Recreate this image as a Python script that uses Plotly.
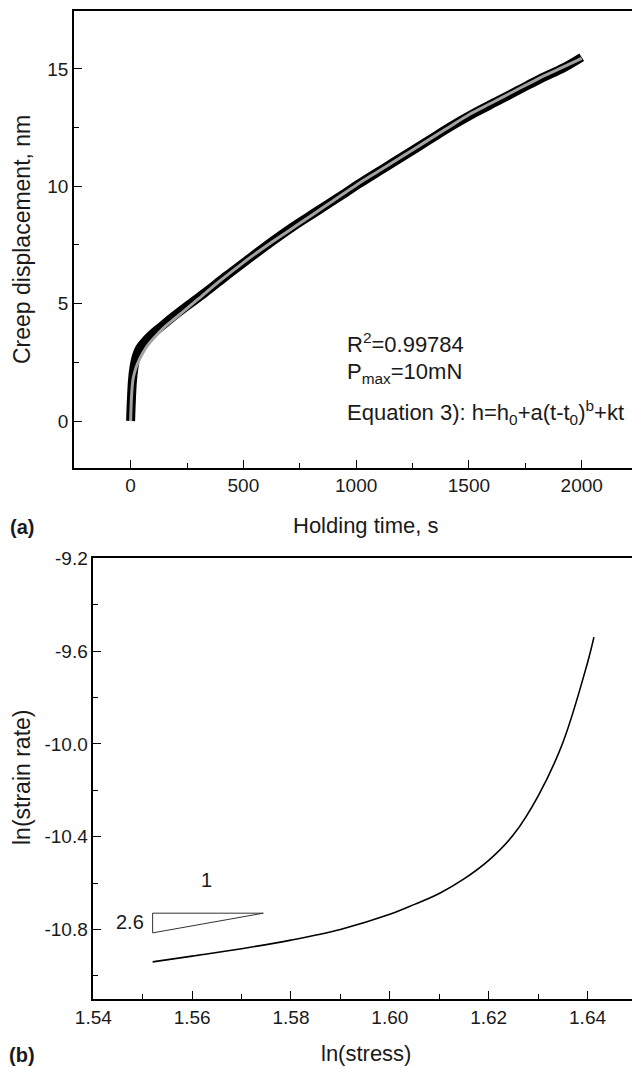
import plotly.graph_objects as go

# ---------------- Panel (a) data ----------------
t_meas = [0, 3, 8, 15, 25, 40, 60, 90, 130, 180, 250, 330, 420, 520, 620, 720, 820,
          920, 1020, 1120, 1220, 1320, 1420, 1520, 1620, 1720, 1820, 1920, 2000]
h_meas = [0.0, 0.8, 1.7, 2.3, 2.75, 3.1, 3.35, 3.65, 3.98, 4.38, 4.9, 5.47, 6.15, 6.88,
          7.6, 8.28, 8.9, 9.52, 10.15, 10.75, 11.35, 11.95, 12.55, 13.1, 13.6, 14.1,
          14.6, 15.05, 15.5]
t_fit = [0, 5, 12, 25, 40, 70, 100, 150, 200, 250, 300, 400, 500, 600, 700, 800, 900,
         1000, 1100, 1200, 1300, 1400, 1500, 1600, 1700, 1800, 1900, 2000]
h_fit = [0.0, 1.2, 1.85, 2.3, 2.65, 3.15, 3.5, 4.0, 4.4, 4.8, 5.2, 6.0, 6.75, 7.45,
         8.1, 8.75, 9.4, 10.05, 10.65, 11.25, 11.85, 12.45, 13.05, 13.55, 14.05,
         14.55, 15.0, 15.45]
a_xticks = [0, 500, 1000, 1500, 2000]
a_yticks = [0, 5, 10, 15]

# ---------------- Panel (b) data ----------------
ln_stress = [1.5520, 1.5600, 1.5700, 1.5800, 1.5900, 1.6000, 1.6050, 1.6100, 1.6150,
             1.6200, 1.6250, 1.6300, 1.6350, 1.6400, 1.6413]
ln_rate = [-10.940, -10.915, -10.883, -10.846, -10.800, -10.735, -10.692, -10.645,
           -10.582, -10.502, -10.392, -10.225, -9.995, -9.650, -9.540]
tri_x = [1.5520, 1.5744, 1.5520, 1.5520]
tri_y = [-10.730, -10.730, -10.815, -10.730]
b_xticks = [1.54, 1.56, 1.58, 1.60, 1.62, 1.64]
b_xtext = ["1.54", "1.56", "1.58", "1.60", "1.62", "1.64"]
b_yticks = [-9.2, -9.6, -10.0, -10.4, -10.8]
b_ytext = ["-9.2", "-9.6", "-10.0", "-10.4", "-10.8"]

W, H = 632, 1066
FONT = "Liberation Sans, Arial, sans-serif"
TXT = "#1a1a1a"


def px(x):
    return x / W


def py(y):
    return 1 - y / H


fig = go.Figure()
fig.add_trace(go.Scatter(x=t_meas, y=h_meas, mode="lines",
                         line=dict(color="black", width=9, shape="spline", smoothing=1.0),
                         xaxis="x", yaxis="y", showlegend=False))
fig.add_trace(go.Scatter(x=t_fit, y=h_fit, mode="lines",
                         line=dict(color="#a3a3a3", width=3, shape="spline"),
                         xaxis="x", yaxis="y", showlegend=False))
fig.add_trace(go.Scatter(x=ln_stress, y=ln_rate, mode="lines",
                         line=dict(color="black", width=1.6, shape="spline", smoothing=1.0),
                         xaxis="x2", yaxis="y2", showlegend=False))
fig.add_trace(go.Scatter(x=tri_x, y=tri_y, mode="lines",
                         line=dict(color="#333333", width=1),
                         xaxis="x2", yaxis="y2", showlegend=False))

axis_common = dict(showline=True, linecolor="black", linewidth=1.5, mirror=True,
                   ticks="inside", ticklen=8, tickwidth=1.2, tickcolor="black",
                   showgrid=False, zeroline=False, automargin=False,
                   tickfont=dict(family=FONT, size=19, color=TXT))

fig.update_layout(
    template="none",
    width=W, height=H,
    margin=dict(l=0, r=0, t=0, b=0, pad=0, autoexpand=False),
    paper_bgcolor="white", plot_bgcolor="white",
    xaxis=dict(axis_common, domain=[px(74), 1.0], range=[-251, 2223],
               tickvals=a_xticks, anchor="y",
               minor=dict(dtick=250, tick0=0, ticks="inside", ticklen=5,
                          tickcolor="black", showgrid=False)),
    yaxis=dict(axis_common, domain=[py(467.7), py(11)], range=[-1.99, 17.47],
               tickvals=a_yticks, anchor="x", mirror=False,
               minor=dict(dtick=2.5, tick0=0, ticks="inside", ticklen=5,
                          tickcolor="black", showgrid=False)),
    xaxis2=dict(axis_common, domain=[px(93.3), 1.0], range=[1.54, 1.649],
                tickvals=b_xticks, ticktext=b_xtext, anchor="y2",
                minor=dict(dtick=0.01, tick0=1.54, ticks="inside", ticklen=5,
                           tickcolor="black", showgrid=False)),
    yaxis2=dict(axis_common, domain=[py(999), py(558.3)], range=[-11.10, -9.2],
                tickvals=b_yticks, ticktext=b_ytext, anchor="x2", mirror=False,
                minor=dict(dtick=0.2, tick0=-9.2, ticks="inside", ticklen=5,
                           tickcolor="black", showgrid=False)),
)

ann = []
f_title = dict(family=FONT, size=22, color=TXT)
f_vtitle = dict(family=FONT, size=23, color=TXT)
ann.append(dict(text="Holding time, s", x=px(366), y=py(525), xref="paper", yref="paper",
                showarrow=False, font=f_title, xanchor="center", yanchor="middle"))
ann.append(dict(text="ln(stress)", x=px(366), y=py(1053), xref="paper", yref="paper",
                showarrow=False, font=f_title, xanchor="center", yanchor="middle"))
ann.append(dict(text="Creep displacement, nm", x=px(22), y=py(240), xref="paper",
                yref="paper", showarrow=False, font=f_vtitle, textangle=-90,
                xanchor="center", yanchor="middle"))
ann.append(dict(text="ln(strain rate)", x=px(22), y=py(778), xref="paper",
                yref="paper", showarrow=False, font=f_vtitle, textangle=-90,
                xanchor="center", yanchor="middle"))
ann.append(dict(text="<b>(a)</b>", x=px(22), y=py(527), xref="paper", yref="paper",
                showarrow=False, font=dict(family=FONT, size=20, color=TXT),
                xanchor="center", yanchor="middle"))
ann.append(dict(text="<b>(b)</b>", x=px(22), y=py(1055), xref="paper", yref="paper",
                showarrow=False, font=dict(family=FONT, size=20, color=TXT),
                xanchor="center", yanchor="middle"))

f_note = dict(family=FONT, size=22, color=TXT)
ann.append(dict(text="R<sup>2</sup>=0.99784", x=950, y=3.32, xref="x", yref="y",
                showarrow=False, font=f_note, xanchor="left", yanchor="middle"))
ann.append(dict(text="P<sub>max</sub>=10mN", x=950, y=2.05, xref="x", yref="y",
                showarrow=False, font=f_note, xanchor="left", yanchor="middle"))
ann.append(dict(text="Equation 3): h=h<sub>0</sub>+a(t-t<sub>0</sub>)<sup>b</sup>+kt",
                x=950, y=0.38, xref="x", yref="y",
                showarrow=False, font=f_note, xanchor="left", yanchor="middle"))
ann.append(dict(text="1", x=1.5629, y=-10.587, xref="x2", yref="y2",
                showarrow=False, font=dict(family=FONT, size=20, color=TXT),
                xanchor="center", yanchor="middle"))
ann.append(dict(text="2.6", x=1.5507, y=-10.767, xref="x2", yref="y2",
                showarrow=False, font=dict(family=FONT, size=20, color=TXT),
                xanchor="right", yanchor="middle"))
fig.update_layout(annotations=ann)

fig.write_html("out.html", config={"displayModeBar": False},
               post_script="document.body.style.margin='0';document.body.style.overflow='hidden';")
